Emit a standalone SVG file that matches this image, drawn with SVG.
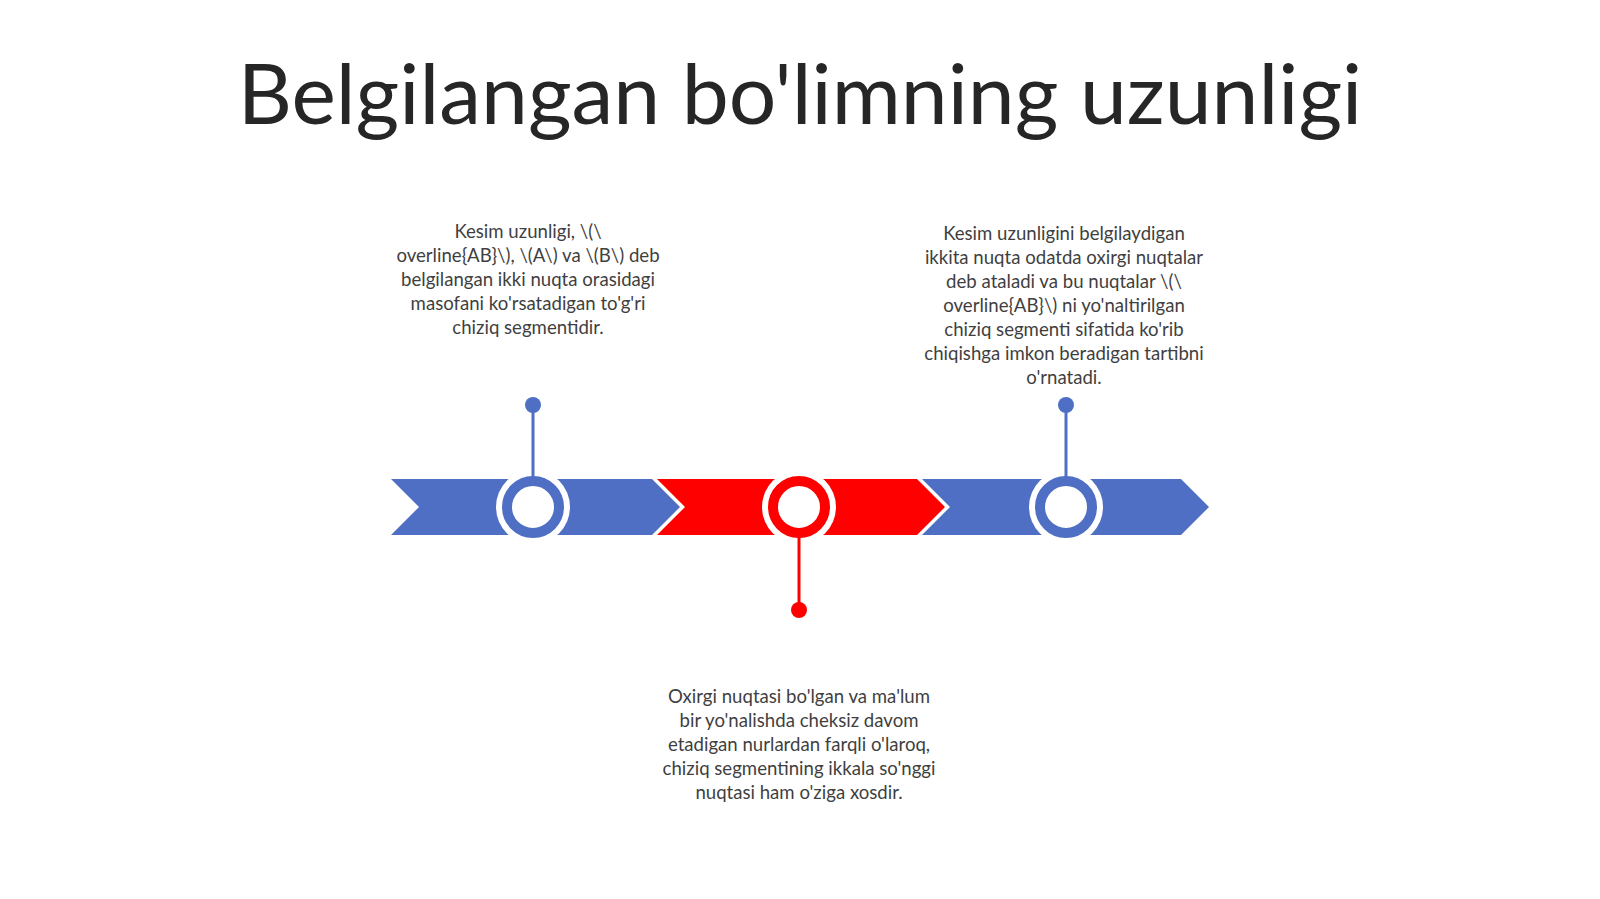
<svg xmlns="http://www.w3.org/2000/svg" width="1600" height="899" viewBox="0 0 1600 899">
  <defs>
    <style>
      .title { font-family: Lato, "Liberation Sans", sans-serif; font-size: 84px; fill: #262626; text-anchor: middle; }
      .body { font-family: Lato, "Liberation Sans", sans-serif; font-size: 18.6px; fill: #3f3f3f; text-anchor: middle; }
      .blue { fill: #4F6FC4; }
      .red { fill: #FF0000; }
      .bline { stroke: #4F6FC4; stroke-width: 3; }
      .rline { stroke: #FF0000; stroke-width: 3; }
      .halo { fill: #FFFFFF; }
    </style>
  </defs>
  <rect width="1600" height="899" fill="#FFFFFF"/>
  <text class="title" x="800" y="124">Belgilangan bo'limning uzunligi</text>

  <g id="band">
    <polygon class="blue" points="391,479 652,479 680,507 652,535 391,535 419,507"/>
    <polygon class="red" points="657,479 917,479 945,507 917,535 657,535 685,507"/>
    <polygon class="blue" points="922,479 1181,479 1209,507 1181,535 922,535 950,507"/>
  </g>

  <g id="node1">
    <circle class="halo" cx="533" cy="507" r="37"/>
    <circle cx="533" cy="507" r="26" fill="none" stroke="#4F6FC4" stroke-width="10"/>
    <circle class="blue" cx="533" cy="405" r="8"/>
    <text class="body" x="528" y="238">Kesim uzunligi, \(\</text>
    <text class="body" x="528" y="262">overline{AB}\), \(A\) va \(B\) deb</text>
    <text class="body" x="528" y="286">belgilangan ikki nuqta orasidagi</text>
    <text class="body" x="528" y="310">masofani ko'rsatadigan to'g'ri</text>
    <text class="body" x="528" y="334">chiziq segmentidir.</text>
  </g>

  <g id="node2">
    <circle class="halo" cx="799" cy="507" r="37"/>
    <circle cx="799" cy="507" r="26" fill="none" stroke="#FF0000" stroke-width="10"/>
    <circle class="red" cx="799" cy="610" r="8"/>
    <text class="body" x="799" y="703">Oxirgi nuqtasi bo'lgan va ma'lum</text>
    <text class="body" x="799" y="727">bir yo'nalishda cheksiz davom</text>
    <text class="body" x="799" y="751">etadigan nurlardan farqli o'laroq,</text>
    <text class="body" x="799" y="775">chiziq segmentining ikkala so'nggi</text>
    <text class="body" x="799" y="799">nuqtasi ham o'ziga xosdir.</text>
  </g>

  <g id="node3">
    <circle class="halo" cx="1066" cy="507" r="37"/>
    <circle cx="1066" cy="507" r="26" fill="none" stroke="#4F6FC4" stroke-width="10"/>
    <circle class="blue" cx="1066" cy="405" r="8"/>
    <text class="body" x="1064" y="240">Kesim uzunligini belgilaydigan</text>
    <text class="body" x="1064" y="264">ikkita nuqta odatda oxirgi nuqtalar</text>
    <text class="body" x="1064" y="288">deb ataladi va bu nuqtalar \(\</text>
    <text class="body" x="1064" y="312">overline{AB}\) ni yo'naltirilgan</text>
    <text class="body" x="1064" y="336">chiziq segmenti sifatida ko'rib</text>
    <text class="body" x="1064" y="360">chiqishga imkon beradigan tartibni</text>
    <text class="body" x="1064" y="384">o'rnatadi.</text>
  </g>

  <g id="connectors">
    <line class="bline" x1="533" y1="405" x2="533" y2="478"/>
    <line class="rline" x1="799" y1="536" x2="799" y2="610"/>
    <line class="bline" x1="1066" y1="405" x2="1066" y2="478"/>
  </g>
</svg>
